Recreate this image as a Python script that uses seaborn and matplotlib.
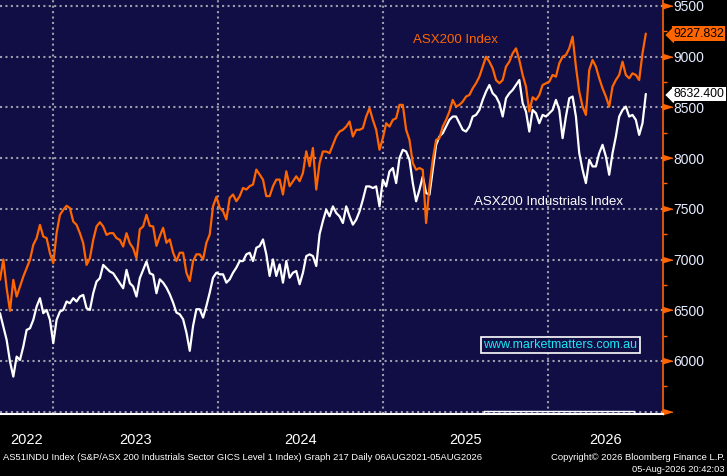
import pandas as pd
import seaborn as sns
import matplotlib.pyplot as plt
import matplotlib.dates as mdates
from matplotlib import font_manager
from matplotlib.ticker import FixedLocator
from matplotlib.transforms import blended_transform_factory, ScaledTranslation

asx200 = [
    6800, 7000, 6717, 6494, 6800, 6635, 6734, 6832, 6915, 6997,
    7145, 7211, 7342, 7227, 7211, 7063, 6964, 7260, 7441, 7490,
    7530, 7507, 7375, 7342, 7260, 7161, 6947, 7013, 7194, 7326,
    7368, 7326, 7243, 7260, 7260, 7211, 7194, 7128, 7260, 7161,
    7112, 7013, 7299, 7326, 7441, 7332, 7326, 7135,
    7231, 7313, 7165, 7198, 7067, 6985, 7067, 7067, 6870, 6788,
    6985, 7051, 7051, 7001, 7165, 7247, 7526, 7618, 7510, 7477,
    7395, 7608, 7641, 7575, 7624, 7706, 7690, 7723, 7739, 7887,
    7838, 7788, 7625, 7625, 7723, 7788, 7788, 7641, 7870, 7723,
    7772, 7821, 7772, 7854, 8067, 7920, 8100, 7690,
    7951, 8065, 8065, 8049, 8131, 8213, 8262, 8279, 8311, 8361,
    8213, 8279, 8279, 8295, 8410, 8492, 8377, 8279, 8082, 8197,
    8344, 8311, 8377, 8393, 8525, 8525, 8279, 8180, 7951, 7885,
    7902, 7885, 7360, 7721, 7984, 8180, 8197, 8311, 8377, 8459,
    8574, 8508, 8525, 8557, 8607, 8623, 8688, 8738,
    8803, 8902, 9000, 8951, 8885, 8770, 8738, 8770, 8902, 8951,
    9033, 9082, 8967, 8820, 8705, 8459, 8600, 8574, 8623, 8721,
    8738, 8754, 8820, 8803, 8934, 9000, 9016, 9082, 9197, 8902,
    8656, 8508, 8426, 8869, 8967, 8902, 8787, 8688, 8607, 8508,
    8705, 8770, 8820, 8951, 8820, 8787, 8836, 8820, 8770, 9033,
    9227.832,
]
industrials = [
    6471, 6339, 6207, 5994, 5846, 6043, 6010, 6142, 6306, 6322,
    6405, 6536, 6619, 6471, 6503, 6405, 6175, 6405, 6487, 6503,
    6586, 6569, 6619, 6586, 6635, 6651, 6520, 6503, 6668, 6783,
    6816, 6947, 6915, 6882, 6865, 6816, 6767, 6717, 6898, 6767,
    6734, 6635, 6816, 6898, 6980, 6865, 6849, 6668,
    6805, 6772, 6723, 6657, 6575, 6477, 6460, 6411, 6280, 6100,
    6346, 6510, 6510, 6428, 6542, 6674, 6821, 6870, 6854, 6854,
    6772, 6805, 6870, 6920, 6985, 6985, 7051, 7067, 6985, 7116,
    7133, 7198, 7051, 6838, 7001, 6838, 6952, 6772, 6985, 6821,
    6870, 6887, 6756, 6870, 7034, 7051, 7034, 6936,
    7250, 7380, 7492, 7426, 7524, 7459, 7426, 7360, 7524, 7426,
    7344, 7393, 7475, 7590, 7721, 7721, 7705, 7721, 7524, 7787,
    7721, 7869, 7902, 7754, 8000, 8082, 8065, 7984, 7754, 7574,
    7688, 7820, 7656, 7639, 7885, 8131, 8213, 8246, 8311, 8377,
    8410, 8410, 8344, 8279, 8262, 8311, 8410, 8426,
    8475, 8574, 8656, 8721, 8639, 8607, 8541, 8410, 8590, 8639,
    8672, 8721, 8770, 8541, 8459, 8262, 8475, 8443, 8344, 8426,
    8410, 8443, 8475, 8574, 8475, 8197, 8410, 8590, 8607, 8410,
    8049, 7885, 7754, 7984, 7918, 7918, 8049, 8131, 8016, 7836,
    8049, 8213, 8410, 8475, 8508, 8410, 8426, 8377, 8229, 8344,
    8632.4,
]
dates = pd.date_range("2022-09-06", "2026-08-05", periods=len(asx200))

y_ticks = [5500, 6000, 6500, 7000, 7500, 8000, 8500, 9000, 9500]
years = [2022, 2023, 2024, 2025, 2026]
x_range = (pd.Timestamp("2022-09-06"), pd.Timestamp("2026-09-12"))
y_range = (5477, 9559)

NAME_ASX = "ASX200 Index"
NAME_IND = "ASX200 Industrials Index"
footer_left = ("AS51INDU Index (S&P/ASX 200 Industrials Sector GICS Level 1 Index) "
               "Graph 217 Daily 06AUG2021-05AUG2026")
footer_right1 = "Copyright\u00a9 2026 Bloomberg Finance L.P."
footer_right2 = "05-Aug-2026 20:42:03"

NAVY = "#100e45"
ORANGE = "#ff6600"
GRID = "#9c9cab"
LABEL = "#e6ecff"

df = pd.DataFrame({
    "Date": list(dates) * 2,
    "Value": industrials + asx200,
    "Series": [NAME_IND] * len(dates) + [NAME_ASX] * len(dates),
})

sns.set_style("dark")
plt.rcParams['font.family'] = ['Liberation Sans', 'DejaVu Sans']

try:
    font_manager.findfont("Liberation Sans Narrow", fallback_to_default=False)
    narrow = ["Liberation Sans Narrow", "DejaVu Sans"]
except Exception:
    narrow = ["Liberation Sans", "DejaVu Sans"]

fig = plt.figure(figsize=(7.27, 4.76), dpi=100, facecolor="black")
ax = fig.add_axes([0, 1 - 414 / 476, 663 / 727, 414 / 476])
ax.set_facecolor(NAVY)

sns.lineplot(data=df, x="Date", y="Value", hue="Series",
             hue_order=[NAME_IND, NAME_ASX],
             palette={NAME_IND: "white", NAME_ASX: ORANGE},
             linewidth=1.6, errorbar=None, legend=False, ax=ax)

ax.set_xlim(*x_range)
ax.set_ylim(*y_range)
ax.set_xlabel("")
ax.set_ylabel("")

# Gitter
ax.set_axisbelow(True)
ax.grid(True, color=GRID, linestyle=(0, (1, 1.6)), linewidth=1.5)

# x-Achse: Jahrestrenner + Quartalsticks
ax.xaxis.set_major_locator(mdates.YearLocator())
ax.xaxis.set_minor_locator(mdates.MonthLocator(bymonth=[1, 4, 7, 10]))
ax.xaxis.set_major_formatter(plt.NullFormatter())
ax.tick_params(axis="x", which="major", length=25, width=1.2, color="#8a8a8a", direction="out")
ax.tick_params(axis="x", which="minor", length=3, width=1, color="white", direction="out")

bx = blended_transform_factory(ax.transData, ax.transAxes)
for yr in years:
    s = max(pd.Timestamp(f"{yr}-01-01"), x_range[0])
    e = min(pd.Timestamp(f"{yr + 1}-01-01"), x_range[1])
    ax.text(s + (e - s) / 2, -0.063, str(yr), transform=bx, ha="center", va="center",
            color="white", fontsize=10.5)

# y-Achse rechts
ax.yaxis.tick_right()
ax.set_yticks(y_ticks)
ax.set_yticklabels(["" if v == 5500 else str(v) for v in y_ticks])
ax.yaxis.set_minor_locator(FixedLocator([v + 250 for v in y_ticks[:-1]]))
ax.tick_params(axis="y", which="major", length=0, pad=7.5, labelcolor=LABEL, labelsize=10)
ax.tick_params(axis="y", which="minor", length=3, width=1, color=ORANGE, direction="out")

by = blended_transform_factory(ax.transAxes, ax.transData)
ax.plot([1.0] * len(y_ticks), y_ticks, transform=by, ls="none",
        marker=[(0, -0.3), (0, 0.3), (1, 0)], ms=13.5, color=ORANGE, clip_on=False)

for s in ["top", "left"]:
    ax.spines[s].set_visible(False)
ax.spines["bottom"].set_color("white")
ax.spines["bottom"].set_linewidth(1.5)
ax.spines["right"].set_color(ORANGE)
ax.spines["right"].set_linewidth(1.2)

# Markierung unten rechts
ax.plot([484 / 663, 484 / 663, 634 / 663, 634 / 663], [0, 0.007, 0.007, 0],
        transform=ax.transAxes, color="white", lw=1, clip_on=False)

# Endwert-Tags
tag_shift = by + ScaledTranslation(7 / 72, 0, fig.dpi_scale_trans)
for vals, fc in [(asx200, ORANGE), (industrials, "white")]:
    last = vals[-1]
    ax.annotate(f"{last:.3f}", xy=(1.0, last), xycoords=by, xytext=(7.5, 0),
                textcoords="offset points", ha="left", va="center", fontsize=8.8,
                color="black", annotation_clip=False,
                bbox=dict(boxstyle="square,pad=0.1", fc=fc, ec="none"))
    ax.plot([1.0], [last], transform=tag_shift, ls="none",
            marker=[(-1, 0), (0, -1), (0, 1)], ms=11, color=fc, clip_on=False)

# Serienbeschriftungen
ax.text(413 / 663, 1 - 40 / 414, NAME_ASX, transform=ax.transAxes, color=ORANGE,
        fontsize=9.5, ha="left", va="center")
ax.text(474 / 663, 1 - 202 / 414, NAME_IND, transform=ax.transAxes, color="white",
        fontsize=9.5, ha="left", va="center")

ax.text(560.5 / 663, 1 - 345 / 414, "www.marketmatters.com.au", transform=ax.transAxes,
        color="#1ee6f5", fontsize=9, ha="center", va="center",
        bbox=dict(boxstyle="square,pad=0.17", fc=NAVY, ec="white", lw=1.2))

# Fußzeile
t1 = fig.text(3 / 727, 1 - 457 / 476, footer_left, color="white", fontsize=7,
              ha="left", va="center", family=narrow)
t2 = fig.text(725 / 727, 1 - 457 / 476, footer_right1, color="white", fontsize=7,
              ha="right", va="center", family=narrow)
t3 = fig.text(725 / 727, 1 - 469 / 476, footer_right2, color="white", fontsize=7,
              ha="right", va="center", family=narrow)
fig.canvas.draw()
for t, target in [(t1, 479), (t2, 173), (t3, 92)]:
    w = t.get_window_extent().width
    t.set_fontsize(7 * target / w)

fig.savefig("out.png", dpi=100, facecolor="black")
